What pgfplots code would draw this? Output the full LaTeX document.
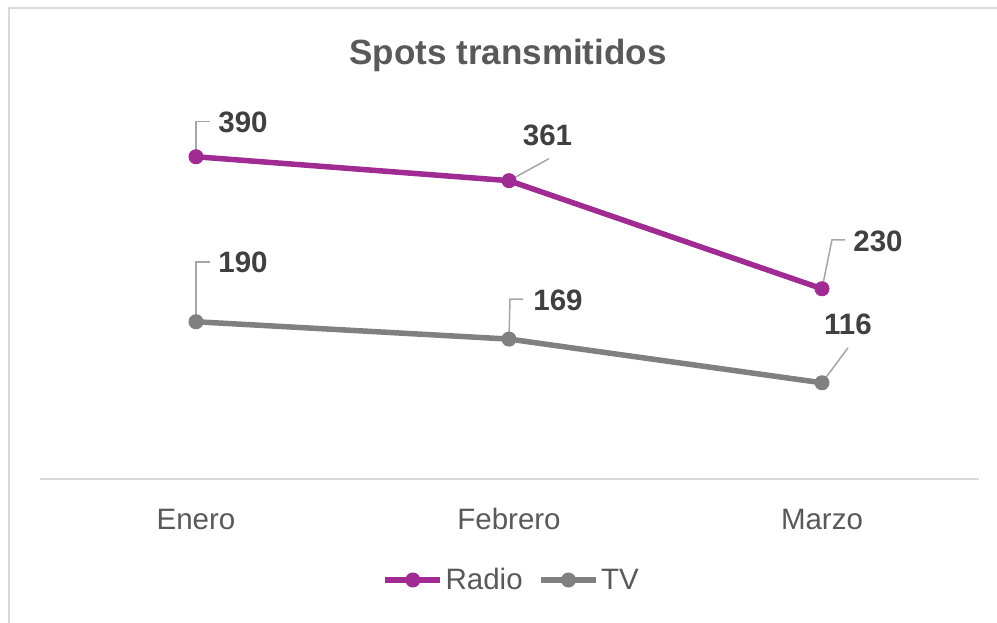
\documentclass[border=0pt]{standalone}
\usepackage{fontspec}
\setmainfont{Liberation Sans}
\usepackage{pgfplots}
\usepackage{pgfplotstable}
\pgfplotsset{compat=1.18}
\definecolor{radio}{HTML}{A02B93}
\definecolor{tvc}{HTML}{808080}
\definecolor{txt}{HTML}{595959}
\definecolor{lbl}{HTML}{404040}
\definecolor{brd}{HTML}{D9D9D9}
\definecolor{lead}{HTML}{A6A6A6}

\pgfplotstableread{
x y dx dy
0 390 47 34
1 361 38.5 45
2 230 56 47
}\radiodata
\pgfplotstableread{
x y dx dy
0 190 47 59
1 169 49 39
2 116 26 58
}\tvdata

\begin{document}
\begin{tikzpicture}[x=1pt,y=1pt]
\fill[white] (0,0) rectangle (997,622);
\draw[brd,line width=1.5pt] (9,-2) -- (9,614) -- (999,614);
\node[txt,font=\fontsize{35}{40}\selectfont\bfseries] at (508,567) {Spots transmitidos};
\begin{axis}[
  at={(39.5pt,143.5pt)}, anchor=south west,
  width=939pt, height=371.25pt, scale only axis,
  xmin=-0.5, xmax=2.5, ymin=0, ymax=450,
  axis y line=none,
  axis x line*=bottom,
  axis line style={brd, line width=2pt},
  xtick={0,1,2}, xticklabels={Enero,Febrero,Marzo},
  major tick length=0pt,
  xticklabel style={font=\fontsize{29.5}{34}\selectfont, text=txt, inner sep=0pt, anchor=base, yshift=-50.5pt},
  clip=false,
  /pgf/number format/assume math mode=true,
  legend style={at={(0.5032,-0.2734)}, anchor=center, draw=none, fill=none,
    font=\fontsize{29.5}{34}\selectfont, text=txt,
    nodes={inner xsep=2.5pt},
    /tikz/every even column/.append style={column sep=13pt}},
  legend columns=2,
  legend image code/.code={\draw[mark repeat=2,mark phase=2,#1] plot coordinates {(0pt,0pt)(27.5pt,0pt)(55pt,0pt)};},
  nodes near coords={\pgfmathprintnumber{\pgfplotspointmeta}},
  visualization depends on={\thisrow{dx}\as\dx},
  visualization depends on={\thisrow{dy}\as\dy},
  every node near coord/.append style={anchor=center, xshift=\dx, yshift=\dy,
    font=\fontsize{29.5}{34}\selectfont\bfseries, text=lbl, inner sep=0pt},
]
\addplot[radio, line width=5.5pt, mark=*, mark size=7pt, mark options={solid, line width=1pt}, point meta=explicit] table[x=x, y=y, meta=y] {\radiodata};
\addlegendentry{Radio}
\addplot[tvc, line width=5.5pt, mark=*, mark size=7pt, mark options={solid, line width=1pt}, point meta=explicit] table[x=x, y=y, meta=y] {\tvdata};
\addlegendentry{TV}
\draw[lead, line width=1.5pt] (axis cs:0,390) -- ++(0pt,35pt) -- ++(14pt,0pt);
\draw[lead, line width=1.5pt] (axis cs:1,361) -- ++(40pt,22pt);
\draw[lead, line width=1.5pt] (axis cs:2,230) -- ++(10pt,49pt) -- ++(13pt,0pt);
\draw[lead, line width=1.5pt] (axis cs:0,190) -- ++(0pt,60pt) -- ++(14pt,0pt);
\draw[lead, line width=1.5pt] (axis cs:1,169) -- ++(1pt,40pt) -- ++(13pt,0pt);
\draw[lead, line width=1.5pt] (axis cs:2,116) -- ++(26pt,35pt);
\end{axis}
\pgfresetboundingbox
\useasboundingbox (0,0) rectangle (997,622);
\end{tikzpicture}
\end{document}
